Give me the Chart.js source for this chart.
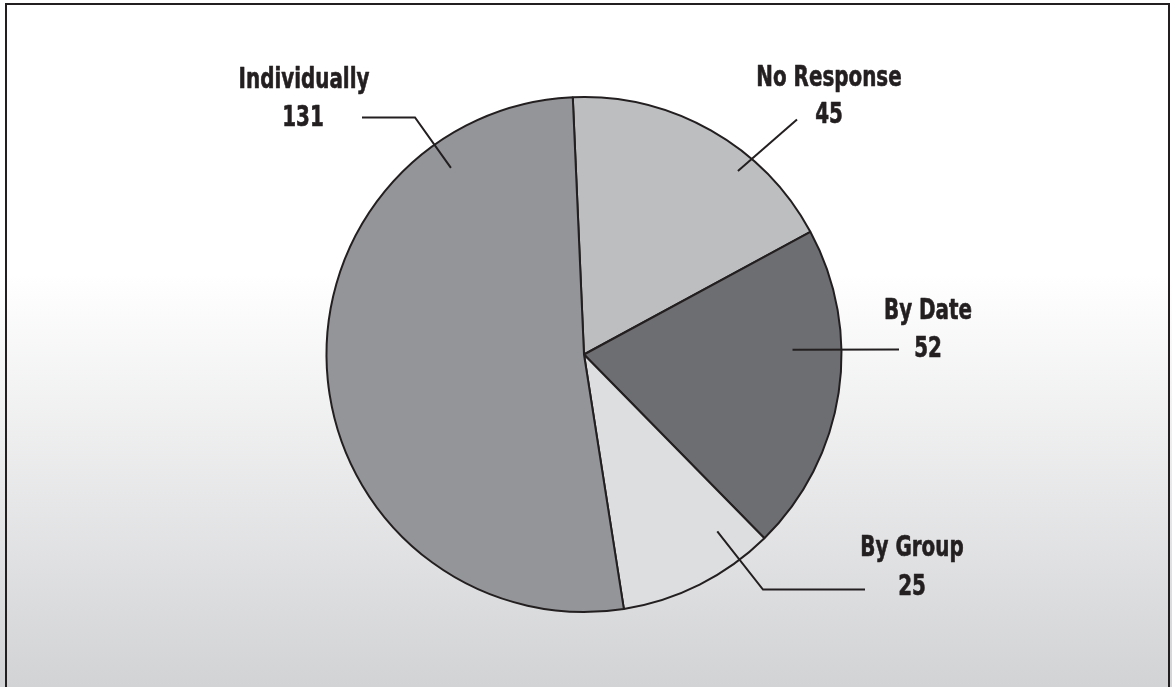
<!DOCTYPE html>
<html>
<head>
<meta charset="utf-8">
<script src="https://cdn.jsdelivr.net/npm/chart.js@4"></script>
<style>
html,body{margin:0;padding:0;background:#fff;}
#wrap{width:1172px;height:687px;position:relative;}
</style>
</head>
<body>
<div id="wrap"><canvas id="c" width="1172" height="687"></canvas></div>
<script>
const categories = ["No Response", "By Date", "By Group", "Individually"];
const values = [45, 52, 25, 131];
const sliceColors = ["#bcbec0", "#6d6e71", "#dddee0", "#939598"];

const INK = "#231f20";
const FONT = "bold 28px 'Liberation Sans Narrow', 'DejaVu Sans Condensed', 'Arial Narrow', sans-serif";
const TEXT_SQUEEZE = 0.79;

// label layout (offsets in px relative to the pie centre; anchor from angle + radius fraction)
const labelLayout = [
  {angle: 40, frac: 0.93, path: [[213, -235]], name: [245, -276], val: [245, -239]},
  {angle: 88.7, frac: 0.81, path: [[315, -5]], name: [344, -43], val: [344, -5]},
  {angle: 143, frac: 0.86, path: [[179, 235], [281, 235]], name: [328, 194], val: [328, 233]},
  {angle: 324.5, frac: 0.89, path: [[-169, -237], [-222, -237]], name: [-280, -274], val: [-281, -236]}
];

const bgPlugin = {
  id: 'bg',
  beforeDraw(chart) {
    const ctx = chart.ctx, w = chart.width, h = chart.height;
    ctx.save();
    const g = ctx.createLinearGradient(0, 0, 0, h);
    g.addColorStop(0, '#ffffff');
    g.addColorStop(0.4, '#ffffff');
    g.addColorStop(1, '#d2d3d5');
    ctx.fillStyle = g;
    ctx.fillRect(0, 0, w, h);
    ctx.strokeStyle = INK;
    ctx.lineWidth = 2;
    ctx.beginPath();
    ctx.moveTo(6, h + 2);
    ctx.lineTo(6, 4);
    ctx.lineTo(1169, 4);
    ctx.lineTo(1169, h + 2);
    ctx.stroke();
    ctx.restore();
  }
};

function squeezedText(ctx, text, x, y) {
  ctx.save();
  ctx.translate(x, y);
  ctx.scale(TEXT_SQUEEZE, 1);
  ctx.lineWidth = 0.6;
  ctx.lineJoin = 'round';
  ctx.strokeText(text, 0, 0);
  ctx.fillText(text, 0, 0);
  ctx.restore();
}

const labelPlugin = {
  id: 'labels',
  afterDatasetsDraw(chart) {
    const ctx = chart.ctx;
    const meta = chart.getDatasetMeta(0);
    const arc0 = meta.data[0];
    const cx = arc0.x, cy = arc0.y, R = arc0.outerRadius;
    ctx.save();
    ctx.strokeStyle = INK;
    ctx.lineWidth = 2;
    ctx.fillStyle = INK;
    ctx.font = FONT;
    ctx.textAlign = 'center';
    ctx.textBaseline = 'middle';
    labelLayout.forEach((L, i) => {
      const a = L.angle * Math.PI / 180;
      const ax = cx + L.frac * R * Math.sin(a);
      const ay = cy - L.frac * R * Math.cos(a);
      ctx.beginPath();
      ctx.moveTo(ax, ay);
      L.path.forEach(p => ctx.lineTo(cx + p[0], cy + p[1]));
      ctx.stroke();
      squeezedText(ctx, categories[i], cx + L.name[0], cy + L.name[1]);
      squeezedText(ctx, String(values[i]), cx + L.val[0], cy + L.val[1]);
    });
    ctx.restore();
  }
};

new Chart(document.getElementById('c'), {
  type: 'pie',
  data: {
    labels: categories,
    datasets: [{
      data: values,
      backgroundColor: sliceColors,
      borderColor: INK,
      borderWidth: 2,
      borderAlign: 'center'
    }]
  },
  options: {
    responsive: false,
    animation: false,
    rotation: -2.5,
    layout: {padding: {top: 96, bottom: 74, left: 0, right: 4}},
    plugins: {legend: {display: false}, tooltip: {enabled: false}}
  },
  plugins: [bgPlugin, labelPlugin]
});
</script>
</body>
</html>
